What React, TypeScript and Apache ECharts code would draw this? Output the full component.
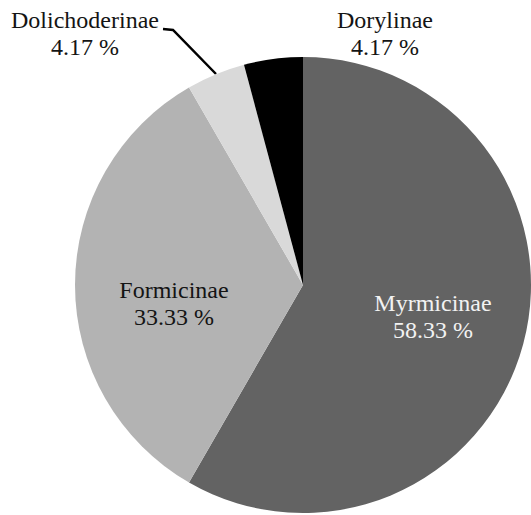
import React, { useEffect, useRef } from "react";
import * as echarts from "echarts";

const categories = ["Myrmicinae", "Formicinae", "Dolichoderinae", "Dorylinae"];
const counts = [14, 8, 1, 1];
const sliceColors = ["#636363", "#b3b3b3", "#d9d9d9", "#000000"];
const labelColors = ["#f2f2f2", "#141414", "#141414", "#141414"];

// label placement (pixels) for each slice's two-line label
const labelPos: [number, number][] = [
  [433, 316],
  [174, 303],
  [85, 33],
  [385, 33],
];

export default function App() {
  const ref = useRef<HTMLDivElement>(null);
  useEffect(() => {
    document.body.style.margin = "0";
    const chart = echarts.init(ref.current!, null, { renderer: "svg" });
    chart.setOption({
      animation: false,
      backgroundColor: "#ffffff",
      series: [
        {
          type: "pie",
          center: [303, 285],
          radius: 228,
          startAngle: 90,
          clockwise: true,
          percentPrecision: 2,
          avoidLabelOverlap: false,
          silent: true,
          itemStyle: { borderWidth: 0 },
          label: {
            formatter: "{b}\n{d} %",
            fontFamily: "'Liberation Serif', 'Times New Roman', serif",
            fontSize: 24,
            lineHeight: 27,
            align: "center",
          },
          labelLine: {
            show: true,
            length: 10,
            length2: 10,
            smooth: false,
            lineStyle: { color: "#000000", width: 2.5 },
          },
          labelLayout: (params: any) => {
            const i = params.dataIndex;
            const [x, y] = labelPos[i];
            const out: any = { x, y, align: "center", verticalAlign: "middle" };
            if (i === 2) {
              out.labelLinePoints = [
                [163, 29],
                [173, 30],
                [216, 74],
              ];
            }
            return out;
          },
          data: categories.map((name, i) => ({
            name,
            value: counts[i],
            itemStyle: { color: sliceColors[i] },
            label: {
              position: i < 2 ? "inside" : "outside",
              color: labelColors[i],
            },
            labelLine: { show: i === 2 },
          })),
        },
      ],
    });
    return () => chart.dispose();
  }, []);
  return (
    <div
      ref={ref}
      style={{ position: "absolute", left: 0, top: 0, width: 531, height: 515 }}
    />
  );
}
